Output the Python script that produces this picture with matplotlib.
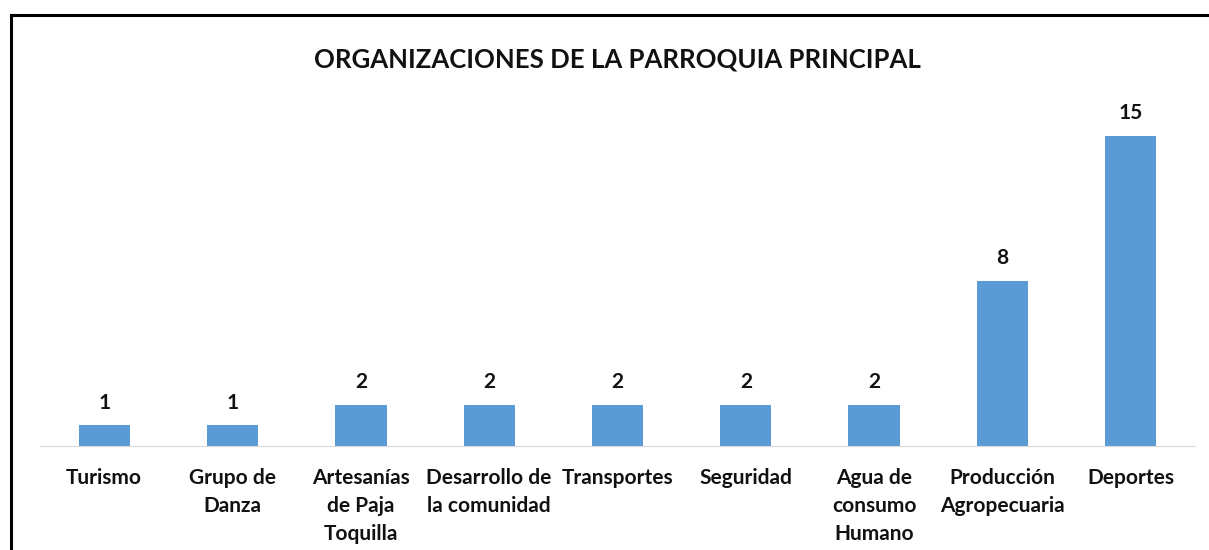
import matplotlib.pyplot as plt
from matplotlib.lines import Line2D

categorias = ["Turismo", "Grupo de\nDanza", "Artesanías\nde Paja\nToquilla",
              "Desarrollo de\nla comunidad", "Transportes", "Seguridad",
              "Agua de\nconsumo\nHumano", "Producción\nAgropecuaria", "Deportes"]
valores = [1, 1, 2, 2, 2, 2, 2, 8, 15]
titulo = "ORGANIZACIONES DE LA PARROQUIA PRINCIPAL"

plt.rcParams['font.family'] = ['Lato', 'DejaVu Sans']

fig = plt.figure(figsize=(12.09, 5.5), dpi=100)
ax = fig.add_axes([0.0331, 0.189, 0.9553, 0.602])

x = range(len(categorias))
barras = ax.bar(x, valores, width=0.4, color='#5B9BD5')
ax.set_xlim(-0.5, len(categorias) - 0.5)
ax.set_ylim(0, 16)

for b, v in zip(barras, valores):
    ax.annotate(str(v), (b.get_x() + b.get_width() / 2, v), xytext=(0, 9),
                textcoords='offset points', ha='center', va='bottom',
                fontsize=15, fontweight='bold', color='#111111')

ax.set_xticks(list(x))
ax.set_xticklabels(categorias, fontsize=15, fontweight='bold', linespacing=1.5,
                   color='#111111')
ax.tick_params(axis='x', length=0, pad=15.5)
ax.set_yticks([])
for s in ['top', 'right', 'left']:
    ax.spines[s].set_visible(False)
ax.spines['bottom'].set_color('#D9D9D9')

ax.set_title(titulo, fontsize=18.5, fontweight='bold', pad=34, color='#111111')

# marco del gráfico (recortado a la derecha y abajo)
fig.add_artist(Line2D([11 / 1209, 11 / 1209], [0, 1 - 15 / 550], color='black', lw=2.2))
fig.add_artist(Line2D([11 / 1209, 1], [1 - 15 / 550, 1 - 15 / 550], color='black', lw=2.2))

fig.savefig('out.png', dpi=100)
